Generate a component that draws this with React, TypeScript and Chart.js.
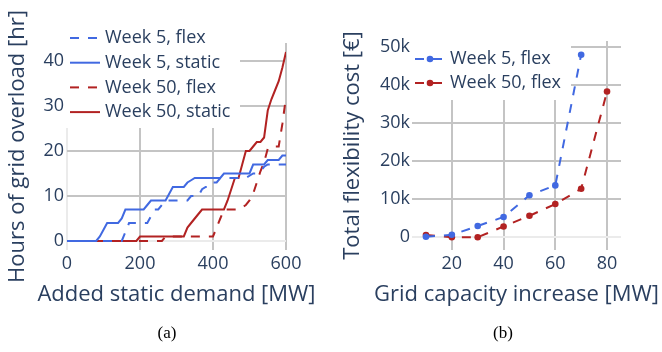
import React, { useEffect, useRef } from "react";
import { Chart, registerables } from "chart.js";

Chart.register(...registerables);

const FONT = '"Open Sans", "DejaVu Sans", sans-serif';
const TEXT = "#2a3f5f";
const BLUE = "#4169e1";
const RED = "#b22222";
const GRID = "#c4c4c4";
const ZERO = "#ebebeb";

// ---------- Chart (a): hours of grid overload vs added static demand ----------
const A_X_TICKS = [0, 200, 400, 600];
const A_Y_TICKS = [0, 10, 20, 30, 40];

const week5Flex: [number, number][] = [
  [0, 0], [150, 0], [160, 2], [170, 4], [220, 4], [230, 5.5], [240, 7], [250, 7],
  [260, 8], [270, 9], [330, 9], [340, 10], [360, 10], [370, 11.5], [380, 12], [390, 12],
  [400, 13], [410, 13], [420, 14], [490, 14], [500, 14.5], [510, 15], [520, 15],
  [530, 15.5], [540, 16.5], [550, 17], [600, 17],
];
const week5Static: [number, number][] = [
  [0, 0], [80, 0], [90, 1], [100, 2.5], [110, 4], [140, 4], [150, 5], [160, 7],
  [210, 7], [220, 8], [230, 9], [270, 9], [280, 10.5], [290, 12], [320, 12], [330, 13],
  [340, 13.5], [350, 14], [420, 14], [430, 15], [500, 15], [510, 17], [540, 17],
  [550, 18], [580, 18], [590, 19], [600, 19],
];
const week50Flex: [number, number][] = [
  [0, 0], [260, 0], [270, 1], [400, 1], [410, 3], [420, 5], [430, 7], [470, 7],
  [480, 7.5], [490, 8], [500, 9], [510, 10.5], [520, 13], [530, 15.5], [540, 17.5],
  [550, 20.5], [560, 21], [580, 21], [590, 26], [600, 32],
];
const week50Static: [number, number][] = [
  [0, 0], [190, 0], [200, 1], [320, 1], [330, 3], [340, 4], [350, 5], [360, 6],
  [370, 7], [430, 7], [440, 9], [450, 11.5], [460, 14], [470, 14], [480, 17], [490, 20],
  [500, 20], [510, 21], [520, 22], [530, 22], [540, 23], [550, 29], [560, 31.5],
  [570, 33.5], [580, 35.5], [590, 38.5], [600, 42],
];

// ---------- Chart (b): total flexibility cost vs grid capacity increase ----------
const B_X_TICKS = [20, 40, 60, 80];
const B_Y_TICKS = [0, 10000, 20000, 30000, 40000, 50000];
const capacityWeek5 = [10, 20, 30, 40, 50, 60, 70];
const costWeek5 = [0, 500, 2800, 5200, 10900, 13500, 47900];
const capacityWeek50 = [10, 20, 30, 40, 50, 60, 70, 80];
const costWeek50 = [450, -150, -150, 2700, 5500, 8600, 12600, 38200];

const gridColor = (ctx: any) =>
  ctx.tick && ctx.tick.value === 0 ? ZERO : GRID;

function linearAxis(o: {
  min: number;
  max: number;
  ticks: number[];
  title: string;
  fmt: (v: number) => string;
  horizontal: boolean;
  size: number;
  pad: number;
}) {
  return {
    type: "linear" as const,
    min: o.min,
    max: o.max,
    afterBuildTicks: (s: any) => {
      s.ticks = o.ticks.map((v) => ({ value: v }));
    },
    afterFit: (s: any) => {
      if (o.horizontal) s.height = o.size;
      else s.width = o.size;
    },
    grid: { color: gridColor, lineWidth: 2, drawTicks: false },
    border: { display: false },
    ticks: {
      padding: o.pad,
      color: TEXT,
      font: { family: FONT, size: 18 },
      autoSkip: false,
      maxRotation: 0,
      callback: (v: any) => o.fmt(Number(v)),
    },
    title: {
      // horizontal titles are drawn by xTitlePlugin so that they are not squeezed
      display: !o.horizontal,
      text: o.title,
      color: TEXT,
      font: { family: FONT, size: 22 },
      padding: { top: 4, bottom: 4 },
    },
  };
}

const xTitlePlugin = (text: string, y: number) => ({
  id: "xTitle",
  afterDraw(chart: any) {
    const ctx: CanvasRenderingContext2D = chart.ctx;
    const a = chart.chartArea;
    ctx.save();
    ctx.fillStyle = TEXT;
    ctx.font = `22px ${FONT}`;
    ctx.textAlign = "center";
    ctx.textBaseline = "middle";
    ctx.fillText(text, (a.left + a.right) / 2, y);
    ctx.restore();
  },
});

function legendPlugin(cfg: {
  box: [number, number, number, number];
  firstY: number;
  gap: number;
  sampleX: number;
  sampleW: number;
  textX: number;
}) {
  return {
    id: "insideLegend",
    afterDraw(chart: any) {
      const ctx: CanvasRenderingContext2D = chart.ctx;
      ctx.save();
      ctx.fillStyle = "#ffffff";
      ctx.fillRect(cfg.box[0], cfg.box[1], cfg.box[2], cfg.box[3]);
      chart.data.datasets.forEach((ds: any, i: number) => {
        const y = cfg.firstY + i * cfg.gap;
        ctx.strokeStyle = ds.borderColor;
        ctx.lineWidth = 2;
        ctx.setLineDash(ds.borderDash || []);
        ctx.beginPath();
        ctx.moveTo(cfg.sampleX, y);
        ctx.lineTo(cfg.sampleX + cfg.sampleW, y);
        ctx.stroke();
        ctx.setLineDash([]);
        if (ds.pointRadius > 0) {
          ctx.fillStyle = ds.borderColor;
          ctx.beginPath();
          ctx.arc(cfg.sampleX + cfg.sampleW / 2, y, ds.pointRadius, 0, Math.PI * 2);
          ctx.fill();
        }
        ctx.fillStyle = TEXT;
        ctx.font = `18px ${FONT}`;
        ctx.textAlign = "left";
        ctx.textBaseline = "middle";
        ctx.fillText(ds.label, cfg.textX, y);
      });
      ctx.restore();
    },
  };
}

function lineDs(label: string, pts: [number, number][], color: string, dashed: boolean) {
  return {
    label,
    data: pts.map(([x, y]) => ({ x, y })),
    borderColor: color,
    backgroundColor: color,
    borderWidth: 2,
    borderDash: dashed ? [9, 9] : [],
    pointRadius: 0,
    tension: 0,
    fill: false,
  };
}

function markerDs(label: string, xs: number[], ys: number[], color: string) {
  return {
    label,
    data: xs.map((x, i) => ({ x, y: ys[i] })),
    borderColor: color,
    backgroundColor: color,
    pointBackgroundColor: color,
    pointBorderWidth: 0,
    borderWidth: 2,
    borderDash: [9, 9],
    pointRadius: 3.3,
    tension: 0,
    fill: false,
  };
}

export default function App() {
  const leftRef = useRef<HTMLCanvasElement | null>(null);
  const rightRef = useRef<HTMLCanvasElement | null>(null);

  useEffect(() => {
    const charts: Chart[] = [];
    if (leftRef.current) {
      charts.push(
        new Chart(leftRef.current, {
          type: "line",
          data: {
            datasets: [
              lineDs("Week 5, flex", week5Flex, BLUE, true),
              lineDs("Week 5, static", week5Static, BLUE, false),
              lineDs("Week 50, flex", week50Flex, RED, true),
              lineDs("Week 50, static", week50Static, RED, false),
            ] as any,
          },
          options: {
            animation: false,
            responsive: false,
            devicePixelRatio: 1,
            layout: { padding: { left: 1, top: 43, right: 45, bottom: 40 } },
            plugins: { legend: { display: false }, tooltip: { enabled: false } },
            scales: {
              x: linearAxis({
                min: 0, max: 600, ticks: A_X_TICKS, title: "Added static demand [MW]",
                fmt: (v) => String(v), horizontal: true, size: 62, pad: 3,
              }),
              y: linearAxis({
                min: -2, max: 44, ticks: A_Y_TICKS, title: "Hours of grid overload [hr]",
                fmt: (v) => String(v), horizontal: false, size: 66, pad: 3,
              }),
            } as any,
          },
          plugins: [
            legendPlugin({ box: [66, 22, 174, 106], firstY: 38, gap: 24.7, sampleX: 70, sampleW: 30, textX: 105 }),
            xTitlePlugin("Added static demand [MW]", 295),
          ],
        })
      );
    }
    if (rightRef.current) {
      charts.push(
        new Chart(rightRef.current, {
          type: "line",
          data: {
            datasets: [
              markerDs("Week 5, flex", capacityWeek5, costWeek5, BLUE),
              markerDs("Week 50, flex", capacityWeek50, costWeek50, RED),
            ] as any,
          },
          options: {
            animation: false,
            responsive: false,
            devicePixelRatio: 1,
            layout: { padding: { left: 5, top: 41, right: 41, bottom: 40 } },
            plugins: { legend: { display: false }, tooltip: { enabled: false } },
            scales: {
              x: linearAxis({
                min: 4.6, max: 85.4, ticks: B_X_TICKS, title: "Grid capacity increase [MW]",
                fmt: (v) => String(v), horizontal: true, size: 62, pad: 3,
              }),
              y: linearAxis({
                min: -3500, max: 51500, ticks: B_Y_TICKS, title: "Total flexibility cost [€]",
                fmt: (v) => (v === 0 ? "0" : `${v / 1000}k`), horizontal: false, size: 76, pad: 2,
              }),
            } as any,
          },
          plugins: [
            legendPlugin({ box: [81, 35, 159, 65], firstY: 59, gap: 24, sampleX: 84, sampleW: 30, textX: 119 }),
            xTitlePlugin("Grid capacity increase [MW]", 295),
          ],
        })
      );
    }
    return () => {
      charts.forEach((c) => c.destroy());
    };
  }, []);

  const caption: React.CSSProperties = {
    position: "absolute",
    top: 323,
    width: 60,
    textAlign: "center",
    fontFamily: '"Liberation Serif", "Times New Roman", serif',
    fontSize: 17,
    color: "#000",
    lineHeight: "20px",
  };

  return (
    <div
      style={{
        position: "absolute",
        left: 0,
        top: 0,
        width: 662,
        height: 352,
        background: "#fff",
        overflow: "hidden",
      }}
    >
      <canvas
        ref={leftRef}
        width={331}
        height={352}
        style={{ position: "absolute", left: 0, top: 0, width: 331, height: 352 }}
      />
      <canvas
        ref={rightRef}
        width={331}
        height={352}
        style={{ position: "absolute", left: 331, top: 0, width: 331, height: 352 }}
      />
      <div style={{ ...caption, left: 137 }}>(a)</div>
      <div style={{ ...caption, left: 473 }}>(b)</div>
    </div>
  );
}
